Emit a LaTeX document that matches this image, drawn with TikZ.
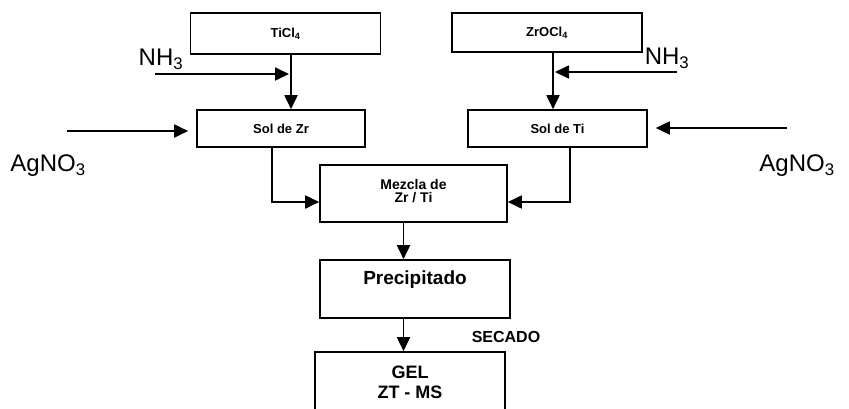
\documentclass[tikz,border=0pt]{standalone}
\usepackage{fontspec}
\setmainfont{Liberation Sans}
\usetikzlibrary{arrows.meta,calc}
\begin{document}
\begin{tikzpicture}[x=1pt,y=-1pt,
  box/.style={draw,line width=1.6pt,inner sep=0pt,align=center},
  small/.style={font=\fontsize{13}{14}\selectfont\bfseries},
  big/.style={font=\fontsize{24}{26}\selectfont},
  conn/.style={line width=1.8pt},
  arr/.style={conn,-{Triangle[length=14pt,width=13pt]}}]
\useasboundingbox (0,0) rectangle (849,408);
% boxes
\node[box,small,minimum width=190pt,minimum height=41pt] (ti) at (285.5,33.5) {TiCl\textsubscript{4}};
\node[box,small,minimum width=190pt,minimum height=39pt] (zr) at (547,32.5) {ZrOCl\textsubscript{4}};
\node[box,small,minimum width=168pt,minimum height=37pt] (solzr) at (281,128.5) {Sol de Zr};
\node[box,small,minimum width=179pt,minimum height=37pt] (solti) at (557.5,128.5) {Sol de Ti};
\node[box,minimum width=187pt,minimum height=57pt] (mez) at (413.5,193.5) {};
\node[font=\fontsize{14}{12.5}\selectfont\bfseries,align=center] (meztxt) at (413.5,191) {Mezcla de\\Zr / Ti};
\node[box,minimum width=190pt,minimum height=58pt] (pre) at (415,289) {};
\node[font=\fontsize{19}{22}\selectfont\bfseries] (pretxt) at (415,280) {Precipitado};
\node[box,minimum width=190pt,minimum height=64pt] (gel) at (410,384) {};
\node[font=\fontsize{18}{20}\selectfont\bfseries,align=center] (geltxt) at (410,382) {GEL\\ZT - MS};
% labels
\node[big] (nh3l) at (161,59) {NH\textsubscript{3}};
\node[big] (nh3r) at (667,58) {NH\textsubscript{3}};
\node[big] (agl) at (48,166) {AgNO\textsubscript{3}};
\node[big] (agr) at (797,166) {AgNO\textsubscript{3}};
\node[font=\fontsize{16}{18}\selectfont\bfseries] (sec) at (506,337) {SECADO};
% free ends
\coordinate (nh3ls) at (155,74);
\coordinate (nh3rs) at (677,72);
\coordinate (agls) at (67,131);
\coordinate (agrs) at (787,128);
% connectors
\draw[arr] ($(ti.south)+(5.5,0)$) -- ($(solzr.north)+(10,0)$);
\draw[arr] (nh3ls) -- (289,74);
\draw[arr] ($(zr.south)+(6,0)$) -- ($(solti.north)+(-4.5,0)$);
\draw[arr] (nh3rs) -- (555,72);
\draw[arr] (agls) -- ($(solzr.west)+(-8,2.5)$);
\draw[arr] (agrs) -- ($(solti.east)+(8,-0.5)$);
\draw[arr] ($(solzr.south)+(-9,0)$) |- ($(mez.west)+(0,8.5)$);
\draw[arr] ($(solti.south)+(12.5,0)$) |- ($(mez.east)+(0,8.5)$);
\draw[arr] ($(mez.south)+(-10,0)$) -- ($(pre.north)+(-11.5,0)$);
\draw[arr] ($(pre.south)+(-11.5,0)$) -- ($(gel.north)+(-6.5,0)$);
\end{tikzpicture}
\end{document}
